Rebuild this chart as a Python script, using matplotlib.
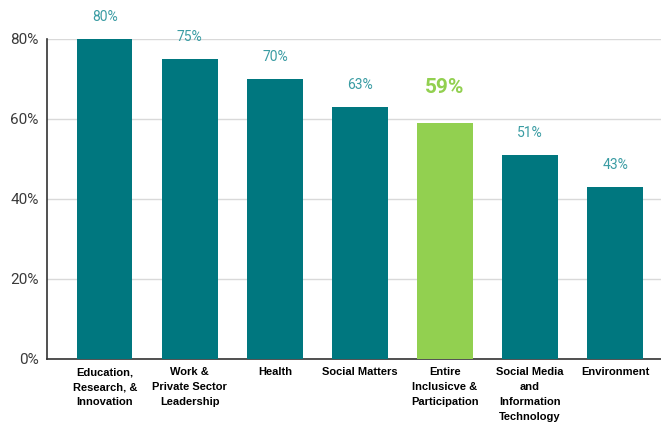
import matplotlib.pyplot as plt

# Share of each area, in percent
categories = [
    "Education,\nResearch, &\nInnovation",
    "Work &\nPrivate Sector\nLeadership",
    "Health",
    "Social Matters",
    "Entire\nInclusicve &\nParticipation",
    "Social Media\nand\nInformation\nTechnology",
    "Environment",
]
values = [80, 75, 70, 63, 59, 51, 43]
highlight = 4  # the overall bar

teal = "#00777f"
green = "#92d050"
label_teal = "#3a9ca3"

fig = plt.figure(figsize=(6.61, 4.24), dpi=100)
ax = fig.add_axes([47 / 661, 65 / 424, 1 - 47 / 661, 320 / 424])

x = list(range(len(values)))
colors = [green if i == highlight else teal for i in x]
ax.bar(x, values, width=0.65, color=colors, zorder=3)

for i, v in zip(x, values):
    if i == highlight:
        ax.annotate(f"{v}%", (i, v), xytext=(0, 25.5), textcoords="offset points",
                    ha="center", va="center", fontsize=15, fontweight="bold",
                    color=green, family="Roboto", annotation_clip=False)
    else:
        ax.annotate(f"{v}%", (i, v), xytext=(0, 16), textcoords="offset points",
                    ha="center", va="center", fontsize=10, color=label_teal,
                    family="Roboto", annotation_clip=False)

ax.set_xlim(-0.68, 6.54)
ax.set_ylim(0, 80)
ax.set_yticks([0, 20, 40, 60, 80])
ax.set_yticklabels(["0%", "20%", "40%", "60%", "80%"], fontsize=11,
                   color="#3a3a3a", family="Roboto")
ax.set_xticks(x)
ax.set_xticklabels(categories, fontsize=8, fontweight="bold",
                   family="Liberation Sans", linespacing=1.62, va="top")
ax.tick_params(axis="both", length=0)
ax.tick_params(axis="x", pad=6)
ax.tick_params(axis="y", pad=6)

ax.grid(axis="y", color="#d9d9d9", linewidth=1, zorder=0)
for side in ["top", "right"]:
    ax.spines[side].set_visible(False)
ax.spines["left"].set_color("#333333")
ax.spines["bottom"].set_color("#333333")
ax.spines["left"].set_linewidth(1.2)
ax.spines["bottom"].set_linewidth(1.2)

fig.savefig("out.png", dpi=100)
